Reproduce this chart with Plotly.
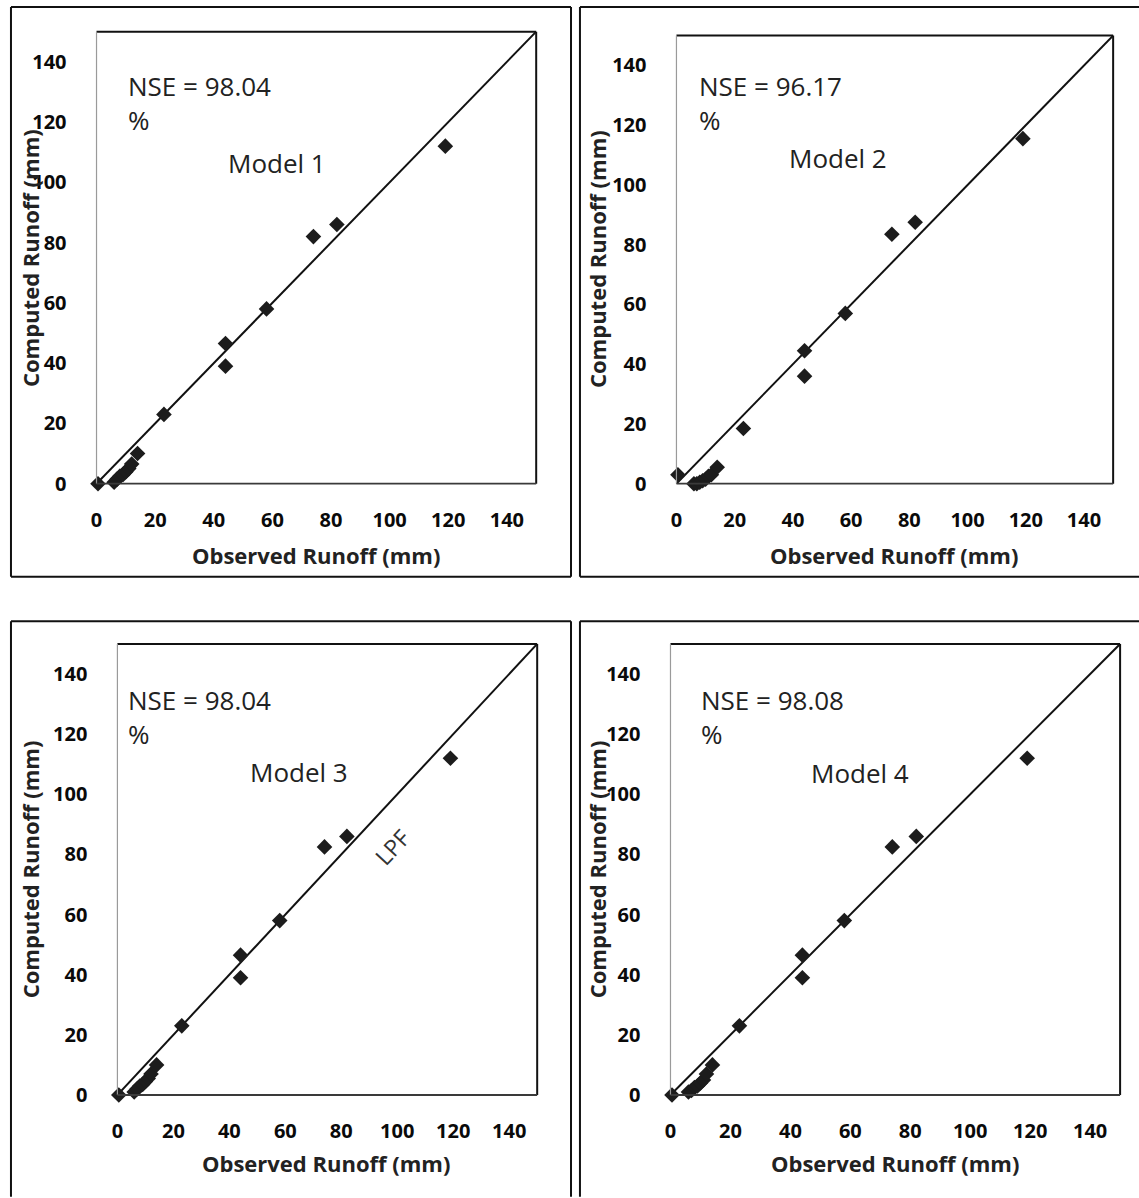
import plotly.graph_objects as go

# ---------------- data ----------------
observed = [0.5, 6, 7, 8, 9, 10, 11, 12, 14, 23, 44, 44, 58, 74, 82, 119]
model1 = [0, 0.5, 1.5, 2.5, 3, 4, 5, 6.5, 10, 23, 46.5, 39, 58, 82, 86, 112]
model2 = [3, 0, 0, 0.5, 1, 1.5, 2.5, 3, 5.5, 18.5, 44.5, 36, 57, 83.5, 87.5, 115.5]
model3 = [0, 1, 2, 3, 3.5, 4.5, 5.5, 7, 10, 23, 46.5, 39, 58, 82.5, 86, 112]
model4 = [0, 1, 1.5, 2.5, 3, 4, 5, 7, 10, 23, 46.5, 39, 58, 82.5, 86, 112]
model_names = ["Model 1", "Model 2", "Model 3", "Model 4"]
nse_labels = ["NSE = 98.04<br>%", "NSE = 96.17<br>%", "NSE = 98.04<br>%", "NSE = 98.08<br>%"]
line_x = [0, 150]
line_y = [0, 150]
tick_vals = [0, 20, 40, 60, 80, 100, 120, 140]
axis_range = [0, 150]
x_title = "Observed Runoff (mm)"
y_title = "Computed Runoff (mm)"
series = [model1, model2, model3, model4]

# ---------------- layout helpers (pixels) ----------------
W, H = 1139, 1198
def px(x):
    return x / W
def py(y):
    return 1 - y / H

# plot areas: (left, right, top, bottom) in pixels
plots = [(91, 533, 32, 489), (674, 1113, 36, 489), (112, 534, 651, 1107), (668, 1120, 651, 1107)]
# NSE text (left x, center y of block), model label (left x, center y)
nse_pos = [(121, 104), (695, 104), (121, 725), (697, 725)]
model_pos = [(221, 165), (785, 160), (243, 780), (807, 781)]
# axis title positions: x title center (x, y), y title center (x, y)
xt_pos = [(312, 561), (893, 561), (322, 1176), (894, 1176)]
yt_pos = [(24, 261), (594, 262), (25, 879), (595, 879)]

FONT = "Open Sans"
fig = go.Figure()
shapes = []
annotations = []

for i, (l, r, t, b) in enumerate(plots):
    xa = "x" if i == 0 else f"x{i+1}"
    ya = "y" if i == 0 else f"y{i+1}"
    fig.add_trace(go.Scatter(x=line_x, y=line_y, mode="lines", xaxis=xa, yaxis=ya,
                             line=dict(color="#111111", width=2), showlegend=False,
                             hoverinfo="skip", cliponaxis=False))
    fig.add_trace(go.Scatter(x=observed, y=series[i], mode="markers", xaxis=xa, yaxis=ya,
                             marker=dict(symbol="diamond", size=12, color="#1c1c1c",
                                         line=dict(width=0)),
                             showlegend=False, cliponaxis=False, name=model_names[i]))
    axis_common = dict(range=axis_range, tickvals=tick_vals, showgrid=False, zeroline=False,
                       showline=False, ticks="",
                       tickfont=dict(family=FONT, size=20, color="#0a0a0a", weight="bold"))
    fig.layout[("xaxis" if i == 0 else f"xaxis{i+1}")] = dict(
        domain=[px(l), px(r)], anchor=ya, ticklabelstandoff=22, **axis_common)
    fig.layout[("yaxis" if i == 0 else f"yaxis{i+1}")] = dict(
        domain=[py(b), py(t)], anchor=xa, ticklabelstandoff=29, **axis_common)

    # plot frame
    shapes += [
        dict(type="line", xref="paper", yref="paper", x0=px(l), x1=px(r), y0=py(t), y1=py(t),
             line=dict(color="#111111", width=2)),
        dict(type="line", xref="paper", yref="paper", x0=px(r), x1=px(r), y0=py(t), y1=py(b),
             line=dict(color="#111111", width=2)),
        dict(type="line", xref="paper", yref="paper", x0=px(l), x1=px(l), y0=py(t), y1=py(b),
             line=dict(color="#9a9a9a", width=1.2)),
        dict(type="line", xref="paper", yref="paper", x0=px(l), x1=px(r), y0=py(b), y1=py(b),
             line=dict(color="#3a3a3a", width=1.8)),
    ]

    annotations += [
        dict(text=nse_labels[i], xref="paper", yref="paper", x=px(nse_pos[i][0]), y=py(nse_pos[i][1]),
             xanchor="left", yanchor="middle", align="left", showarrow=False,
             font=dict(family=FONT, size=26, color="#222222")),
        dict(text=model_names[i], xref="paper", yref="paper", x=px(model_pos[i][0]), y=py(model_pos[i][1]),
             xanchor="left", yanchor="middle", showarrow=False,
             font=dict(family=FONT, size=26, color="#222222")),
        dict(text=x_title, xref="paper", yref="paper", x=px(xt_pos[i][0]), y=py(xt_pos[i][1]),
             xanchor="center", yanchor="middle", showarrow=False,
             font=dict(family=FONT, size=22, color="#222222", weight="bold")),
        dict(text=y_title, xref="paper", yref="paper", x=px(yt_pos[i][0]), y=py(yt_pos[i][1]),
             xanchor="center", yanchor="middle", showarrow=False, textangle=-90,
             font=dict(family=FONT, size=22, color="#222222", weight="bold")),
    ]

# LPF label on model 3 panel
annotations.append(dict(text="LPF", xref="paper", yref="paper", x=px(388), y=py(856),
                        xanchor="center", yanchor="middle", showarrow=False, textangle=-47,
                        font=dict(family=FONT, size=23, color="#333333")))

# outer panel boxes
def hline(x0, x1, y):
    return dict(type="line", xref="paper", yref="paper", x0=px(x0), x1=px(x1), y0=py(y), y1=py(y),
                line=dict(color="#111111", width=2))
def vline(x, y0, y1):
    return dict(type="line", xref="paper", yref="paper", x0=px(x), x1=px(x), y0=py(y0), y1=py(y1),
                line=dict(color="#111111", width=2))

shapes += [
    hline(5, 568, 7), hline(5, 568, 583), vline(5, 7, 583), vline(568, 7, 583),
    hline(577, 1145, 7), hline(577, 1145, 583), vline(577, 7, 583),
    hline(5, 568, 628), vline(5, 628, 1210), vline(568, 628, 1210),
    hline(577, 1145, 628), vline(577, 628, 1210),
]

fig.update_layout(width=W, height=H, margin=dict(l=0, r=0, t=0, b=0),
                  paper_bgcolor="white", plot_bgcolor="rgba(0,0,0,0)",
                  shapes=shapes, annotations=annotations, showlegend=False)

fig.write_html("out.html")
